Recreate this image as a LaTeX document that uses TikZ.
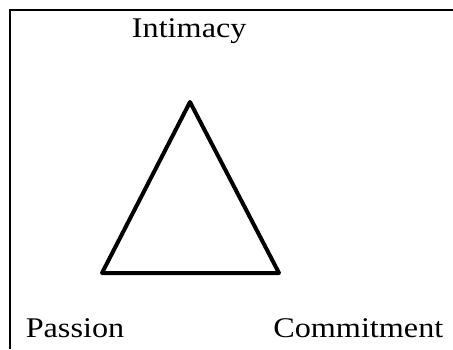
\documentclass[tikz,border=0pt]{standalone}
\usepackage{fontspec}
\setmainfont{Liberation Serif}[FakeStretch=1.13]
\begin{document}
\begin{tikzpicture}[x=1pt,y=-1pt,
  lbl/.style={inner sep=0pt,anchor=base,font=\fontsize{28.5}{30}\selectfont},
  frame/.style={line width=2.4pt},
  tri/.style={line width=4pt,line join=round}]
\useasboundingbox (0,0) rectangle (453,349);
\fill[white] (0,0) rectangle (453,349);
\draw[frame] (9.7,349) -- (9.7,10) -- (453,10);
\coordinate (top) at (190,102);
\coordinate (bl) at (102,273);
\coordinate (br) at (279,273);
\draw[tri] (top) -- (br) -- (bl) -- cycle;
\node[lbl] (intimacy) at (189.2,37) {Intimacy};
\node[lbl] (passion) at (75,337.7) {Passion};
\node[lbl] (commitment) at (358.3,337.7) {Commitment};
\end{tikzpicture}
\end{document}
